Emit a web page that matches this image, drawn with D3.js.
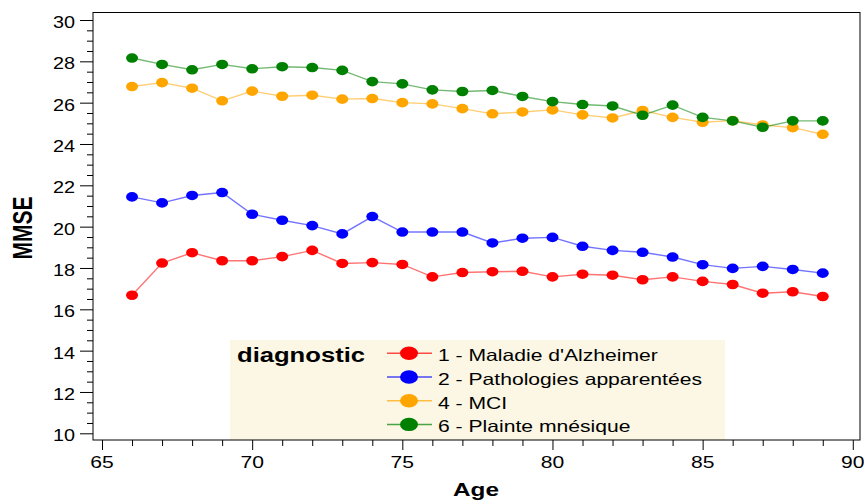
<!DOCTYPE html>
<html>
<head>
<meta charset="utf-8">
<script src="https://cdn.jsdelivr.net/npm/d3@7"></script>
<style>
  body { margin: 0; background: #fff; }
  text { font-family: "Liberation Sans", Arial, sans-serif; }
</style>
</head>
<body>
<svg id="chart" width="864" height="500"></svg>
<script>
// values
var ages = [66, 67, 68, 69, 70, 71, 72, 73, 74, 75, 76, 77, 78, 79, 80, 81, 82, 83, 84, 85, 86, 87, 88, 89];
var alzheimer = [16.68, 18.24, 18.74, 18.35, 18.35, 18.55, 18.85, 18.22, 18.26, 18.17, 17.57, 17.78,
                 17.82, 17.84, 17.57, 17.7, 17.65, 17.43, 17.57, 17.35, 17.2, 16.78, 16.85, 16.62];
var pathologies = [21.44, 21.15, 21.51, 21.65, 20.6, 20.31, 20.05, 19.65, 20.49, 19.74, 19.74, 19.74,
                   19.21, 19.44, 19.48, 19.05, 18.85, 18.76, 18.53, 18.16, 17.98, 18.08, 17.93, 17.75];
var mci = [26.78, 26.97, 26.7, 26.09, 26.56, 26.31, 26.36, 26.17, 26.2, 26.0, 25.94, 25.71,
           25.46, 25.55, 25.65, 25.41, 25.26, 25.62, 25.29, 25.05, 25.13, 24.92, 24.79, 24.47];
var plainte = [28.16, 27.85, 27.59, 27.85, 27.64, 27.74, 27.7, 27.56, 27.02, 26.91, 26.62, 26.54,
               26.59, 26.3, 26.05, 25.91, 25.84, 25.39, 25.88, 25.29, 25.12, 24.81, 25.12, 25.12];

var seriesNames = ["1 - Maladie d'Alzheimer", "2 - Pathologies apparentées", "4 - MCI", "6 - Plainte mnésique"];
var seriesColors = ["#ff0000", "#0000ff", "#ffa500", "#008000"];
var xTicks = [65, 70, 75, 80, 85, 90];
var yTicks = [10, 12, 14, 16, 18, 20, 22, 24, 26, 28, 30];

var series = [alzheimer, pathologies, mci, plainte].map(function (vals, i) {
    return {
        name: seriesNames[i],
        color: seriesColors[i],
        points: vals.map(function (v, j) { return {age: ages[j], v: v}; })
    };
});

var svg = d3.select("#chart");
var pLeft = 93, pRight = 860, pTop = 12.5, pBottom = 440;
var stretch = 1.28; // the picture is drawn wider than tall

var x = d3.scaleLinear().domain([64.7, 90.24]).range([pLeft, pRight]);
var y = d3.scaleLinear().domain([9.676, 30.363]).range([pBottom, pTop]);

function label(g, tx, ty, str, size, anchor, bold, sx) {
    return g.append("text")
        .attr("transform", "translate(" + tx + "," + ty + ") scale(" + (sx || stretch) + ",1)")
        .attr("text-anchor", anchor)
        .attr("fill", "#000")
        .style("font-size", size + "px")
        .style("font-weight", bold ? "bold" : "normal")
        .text(str);
}

// legend background, under everything
var lg = svg.append("g");
lg.append("rect")
    .attr("x", 230).attr("y", 340)
    .attr("width", 495).attr("height", pBottom - 340)
    .attr("fill", "#fbf7e4");

// frame
svg.append("rect")
    .attr("x", pLeft).attr("y", pTop)
    .attr("width", pRight - pLeft).attr("height", pBottom - pTop)
    .attr("fill", "none").attr("stroke", "#000").attr("stroke-width", 1);

// x axis
var xAxis = svg.append("g").attr("transform", "translate(0," + pBottom + ")");
xAxis.call(d3.axisBottom(x).tickValues(d3.range(65, 91, 1)).tickSize(6).tickFormat(""));
xAxis.call(function (g) {
    g.select(".domain").remove();
    g.selectAll(".tick").filter(function (d) { return d % 5 === 0; })
        .select("line").attr("y2", 10);
});
xTicks.forEach(function (t) { label(xAxis, x(t), 28, t, 16.5, "middle", false); });

// y axis
var yAxis = svg.append("g").attr("transform", "translate(" + pLeft + ",0)");
yAxis.call(d3.axisLeft(y).tickValues(d3.range(10, 30.01, 0.5)).tickSize(6).tickFormat(""));
yAxis.call(function (g) {
    g.select(".domain").remove();
    g.selectAll(".tick").filter(function (d) { return Math.abs(d % 2) < 1e-6; })
        .select("line").attr("x2", -13);
});
yTicks.forEach(function (t) { label(yAxis, -18, y(t) + 8, t, 16.5, "end", false, 1.2); });

// axis titles
label(svg, 476, 496, "Age", 19, "middle", true);
svg.append("text")
    .attr("transform", "translate(31.5,228) scale(" + stretch + ",1) rotate(-90)")
    .attr("text-anchor", "middle")
    .style("font-size", "21px").style("font-weight", "bold")
    .text("MMSE");

// lines and markers
var line = d3.line().x(function (d) { return x(d.age); }).y(function (d) { return y(d.v); });
var sg = svg.selectAll(".serie").data(series).enter().append("g").attr("class", "serie");
sg.append("path")
    .attr("d", function (d) { return line(d.points); })
    .attr("fill", "none")
    .attr("stroke", function (d) { return d.color; })
    .attr("stroke-opacity", 0.55)
    .attr("stroke-width", 1.4);
sg.selectAll("ellipse").data(function (d) { return d.points.map(function (p) { return {p: p, c: d.color}; }); })
    .enter().append("ellipse")
    .attr("cx", function (d) { return x(d.p.age); })
    .attr("cy", function (d) { return y(d.p.v); })
    .attr("rx", 6).attr("ry", 4.8)
    .attr("fill", function (d) { return d.c; });

// legend content
label(lg, 237, 362, "diagnostic", 20, "start", true);
series.forEach(function (s, i) {
    var cy = 353.3 + i * 23.7;
    lg.append("line")
        .attr("x1", 387).attr("x2", 432).attr("y1", cy).attr("y2", cy)
        .attr("stroke", s.color).attr("stroke-opacity", 0.7).attr("stroke-width", 1.5);
    lg.append("ellipse")
        .attr("cx", 409).attr("cy", cy).attr("rx", 9).attr("ry", 6.7)
        .attr("fill", s.color);
    label(lg, 438, cy + 8, s.name, 16.5, "start", false);
});
</script>
</body>
</html>
